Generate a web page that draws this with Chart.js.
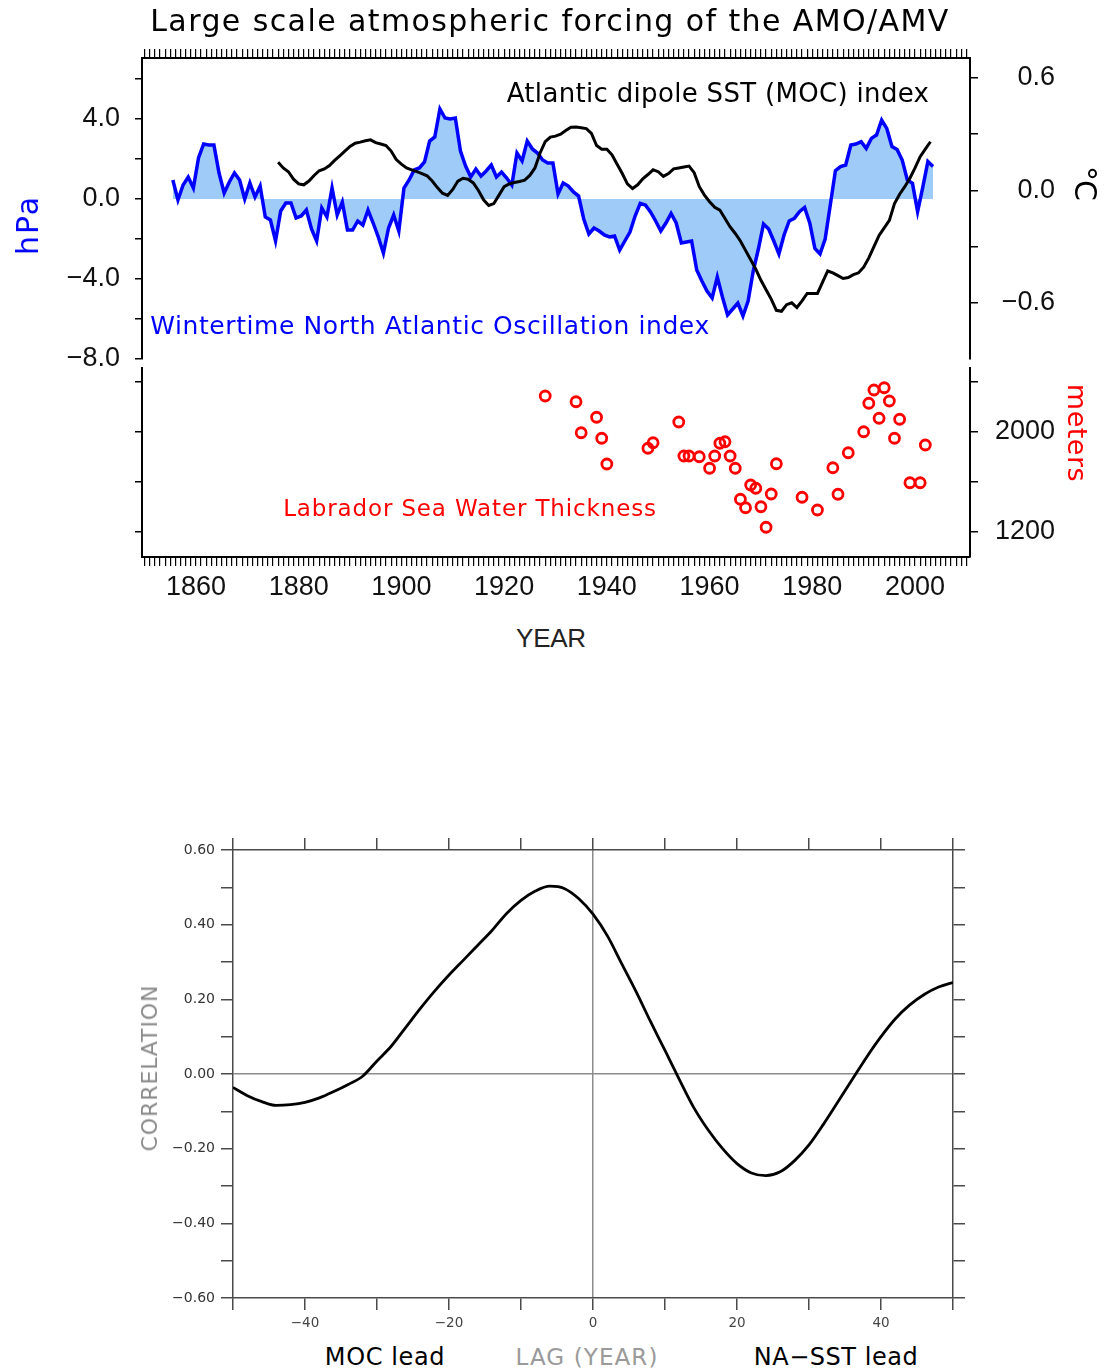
<!DOCTYPE html>
<html lang="en">
<head>
<meta charset="UTF-8">
<title>Large scale atmospheric forcing of the AMO/AMV</title>
<style>
  body { margin: 0; background: #fff; }
  #page { position: relative; width: 1104px; height: 1371px; overflow: hidden; background: #fff; }
  #page canvas { position: absolute; left: 0; }
  .txt { position: absolute; white-space: nowrap; font-family: "DejaVu Sans", sans-serif; line-height: 1; transform: translate(-50%, -50%); }
  .up { transform: translate(-50%, -50%) rotate(-90deg); }
  .down { transform: translate(-50%, -50%) rotate(90deg); }
</style>
</head>
<body>
<div id="page">
  <canvas id="topChart" width="1104" height="375" style="top:0"></canvas>
  <canvas id="lswChart" width="1104" height="255" style="top:360px"></canvas>
  <canvas id="lagChart" width="1104" height="520" style="top:820px"></canvas>

  <div class="txt" data-w="800" style="left:550px;top:21px;font-size:30px;color:#000">Large scale atmospheric forcing of the AMO/AMV</div>
  <div class="txt" data-w="423" style="left:718px;top:93px;font-size:26px;color:#000">Atlantic dipole SST (MOC) index</div>
  <div class="txt" data-w="560" style="left:430px;top:325px;font-size:25px;color:#0000ff">Wintertime North Atlantic Oscillation index</div>
  <div class="txt" data-w="374" style="left:470px;top:508px;font-size:23px;color:#ff0000">Labrador Sea Water Thickness</div>
  <div class="txt" data-w="70" style="left:551px;top:638px;font-size:26px;color:#222;font-family:'Liberation Sans',sans-serif">YEAR</div>
  <div class="txt up" data-w="60" style="left:28px;top:225px;font-size:30px;color:#0000ff">hPa</div>
  <div class="txt down" data-w="34" style="left:1085px;top:183px;font-size:30px;color:#000">°C</div>
  <div class="txt down" data-w="98" style="left:1077px;top:433px;font-size:27px;color:#ff0000">meters</div>

  <div class="txt up" data-w="167" style="left:150px;top:1068px;font-size:22px;color:#8a8a8a">CORRELATION</div>
  <div class="txt" data-w="120" style="left:385px;top:1357px;font-size:24px;color:#000">MOC lead</div>
  <div class="txt" data-w="143" style="left:587px;top:1357px;font-size:23px;color:#9a9a9a">LAG (YEAR)</div>
  <div class="txt" data-w="165" style="left:836px;top:1357px;font-size:24px;color:#000">NA−SST lead</div>
</div>

<script src="https://cdn.jsdelivr.net/npm/chart.js"></script>
<script>
// winter NAO index (hPa), one value per winter, first at 1855.5
const naoStart = 1855.5;
const naoValues = [
  0.95, -0.05, 0.7, 1.1, 0.55, 2.05, 2.75, 2.7, 2.7, 1.3,
  0.3, 0.85, 1.3, 0.95, 0.0, 0.8, 0.1, 0.65, -0.9, -1.05,
  -2.1, -0.6, -0.2, -0.2, -0.95, -0.85, -0.55, -1.5, -2.1, -0.45,
  -0.9, 0.55, -0.8, -0.15, -1.55, -1.55, -1.1, -1.3, -0.55, -1.2,
  -1.9, -2.7, -1.45, -0.8, -1.6, 0.55, 0.95, 1.45, 1.55, 1.85,
  2.9, 3.1, 4.5, 4.05, 4.0, 4.05, 2.4, 1.65, 1.1, 1.5,
  1.15, 1.4, 1.7, 1.1, 1.35, 1.05, 0.7, 2.3, 1.9, 2.9,
  2.5, 2.3, 1.95, 1.8, 1.8, 0.25, 0.8, 0.65, 0.35, 0.15,
  -1.0, -1.75, -1.45, -1.6, -1.8, -1.9, -1.85, -2.55, -2.1, -1.65,
  -0.85, -0.22, -0.3, -0.65, -1.1, -1.6, -1.2, -0.72, -1.2, -2.2,
  -2.15, -2.1, -3.55, -4.1, -4.6, -4.95, -3.9, -4.9, -5.8, -5.5,
  -5.2, -5.85, -5.1, -3.6, -2.5, -1.25, -1.5, -2.1, -2.75, -1.8,
  -1.1, -0.97, -0.63, -0.42, -1.2, -2.47, -2.75, -2.0, -0.3, 1.42,
  1.62, 1.7, 2.7, 2.75, 2.87, 2.53, 3.03, 3.2, 3.95, 3.53,
  2.62, 2.48, 1.95, 0.95, 0.78, -0.63, 0.58, 1.87, 1.62
];

// Atlantic dipole SST (MOC) index (degC), yearly from 1876
const mocStart = 1876;
const mocValues = [
  0.15, 0.12, 0.10, 0.06, 0.035, 0.03, 0.05, 0.08, 0.105, 0.115,
  0.133, 0.16, 0.185, 0.21, 0.235, 0.252, 0.258, 0.265, 0.27, 0.255,
  0.248, 0.24, 0.21, 0.165, 0.14, 0.12, 0.11, 0.10, 0.09, 0.078,
  0.05, 0.015, -0.015, -0.027, 0.005, 0.05, 0.065, 0.06, 0.04, 0.0,
  -0.05, -0.08, -0.07, -0.025, 0.02, 0.035, 0.042, 0.048, 0.055, 0.08,
  0.12, 0.2, 0.26, 0.285, 0.29, 0.30, 0.32, 0.337, 0.338, 0.335,
  0.33, 0.305, 0.24, 0.22, 0.22, 0.19, 0.14, 0.09, 0.035, 0.01,
  0.03, 0.062, 0.085, 0.11, 0.10, 0.075, 0.09, 0.115, 0.12, 0.125,
  0.13, 0.095, 0.02, -0.025, -0.06, -0.09, -0.105, -0.15, -0.195, -0.23,
  -0.27, -0.32, -0.37, -0.42, -0.48, -0.53, -0.58, -0.64, -0.645, -0.61,
  -0.60, -0.625, -0.59, -0.55, -0.55, -0.55, -0.49, -0.43, -0.44, -0.455,
  -0.47, -0.465, -0.45, -0.44, -0.41, -0.36, -0.30, -0.24, -0.20, -0.16,
  -0.07, -0.02, 0.02, 0.065, 0.12, 0.18, 0.22, 0.26
];

// Labrador Sea Water thickness (m)
const lswYears = [1928, 1934, 1935, 1938, 1939, 1940, 1948, 1949, 1954, 1955, 1956, 1958, 1960, 1961,
  1962, 1963, 1964, 1965, 1966, 1967, 1968, 1969, 1970, 1971, 1972, 1973, 1978, 1981, 1984, 1985,
  1987, 1990, 1991, 1992, 1993, 1994, 1995, 1996, 1997, 1999, 2001, 2002];
const lswValues = [2288, 2242, 1994, 2118, 1950, 1744, 1870, 1914, 2080, 1808, 1808, 1802, 1710, 1808,
  1910, 1922, 1808, 1710, 1462, 1394, 1576, 1550, 1402, 1238, 1504, 1746, 1478, 1376, 1714, 1502,
  1834, 2002, 2230, 2336, 2110, 2354, 2248, 1950, 2102, 1594, 1594, 1896];

// lag correlation, MOC vs NA-SST
const lags = [-50, -48, -46, -44, -42, -40, -38, -36, -34, -32, -30, -28, -26, -24, -22, -20, -18, -16, -14, -12,
  -10, -8, -6, -4, -2, 0, 2, 4, 6, 8, 10, 12, 14, 16, 18, 20, 22, 24, 26, 28,
  30, 32, 34, 36, 38, 40, 42, 44, 46, 48, 50];
const lagCorr = [-0.036, -0.058, -0.074, -0.084, -0.082, -0.076, -0.064, -0.047, -0.028, -0.006,
  0.035, 0.075, 0.125, 0.175, 0.222, 0.265, 0.305, 0.345, 0.385, 0.43,
  0.465, 0.49, 0.503, 0.497, 0.47, 0.428, 0.37, 0.295, 0.22, 0.14,
  0.063, -0.015, -0.09, -0.15, -0.2, -0.24, -0.265, -0.272, -0.262, -0.232,
  -0.19, -0.135, -0.075, -0.015, 0.045, 0.1, 0.148, 0.185, 0.213, 0.233, 0.245];

const naoYearLabels = [1860, 1880, 1900, 1920, 1940, 1960, 1980, 2000];
const lagLabels = [-40, -20, 0, 20, 40];

// ---- helpers ----
const fmt = (v, d) => (v < -1e-9 ? '\u2212' : '') + Math.abs(v).toFixed(d);
function fixBox(size) {
  return function (scale) {
    if (scale.isHorizontal()) scale.height = size; else scale.width = size;
    scale.paddingTop = scale.paddingBottom = scale.paddingLeft = scale.paddingRight = 0;
  };
}
function setTicks(values) {
  return function (scale) { scale.ticks = values.map(v => ({ value: v })); };
}
function range(a, b, step) {
  const out = [];
  for (let i = 0; a + i * step <= b + 1e-9; i++) out.push(Math.round((a + i * step) * 1000) / 1000);
  return out;
}

const naoPoints = naoValues.map((v, i) => ({ x: naoStart + i, y: v }));
const mocPoints = mocValues.map((v, i) => ({ x: mocStart + i, y: v }));
const lswPoints = lswYears.map((yr, i) => ({ x: yr, y: lswValues[i] }));
const lagPoints = lags.map((l, i) => ({ x: l, y: lagCorr[i] }));

const yearMin = 1849.5, yearMax = 2010.7;
const bigFont = { family: 'Liberation Sans', size: 27 };
const black = '#000';
const noPlugins = { legend: { display: false }, tooltip: { enabled: false } };

// ---- top panel: NAO + MOC ----
new Chart(document.getElementById('topChart'), {
  type: 'line',
  data: {
    datasets: [
      { data: mocPoints, yAxisID: 'ySst', borderColor: black, borderWidth: 3, pointRadius: 0, fill: false, tension: 0 },
      { data: naoPoints, yAxisID: 'yNao', borderColor: '#0000ff', borderWidth: 3.5, pointRadius: 0,
        fill: 'origin', backgroundColor: '#9ecbf7', tension: 0 }
    ]
  },
  options: {
    responsive: false, animation: false, plugins: noPlugins,
    layout: { padding: { top: 0, right: 49, bottom: 16, left: 0 } },
    scales: {
      x: {
        type: 'linear', position: 'top', min: yearMin, max: yearMax,
        afterBuildTicks: setTicks(range(1850, 2010, 1)), afterFit: fixBox(58),
        grid: { drawOnChartArea: false, tickLength: 9, color: black, lineWidth: 1.2 },
        border: { color: black, width: 2 },
        ticks: { display: false, autoSkip: false }
      },
      yNao: {
        type: 'linear', position: 'left', min: -8, max: 7.05,
        afterBuildTicks: setTicks(range(-8, 6, 2)), afterFit: fixBox(142),
        grid: { drawOnChartArea: false, tickLength: 7, color: black, lineWidth: 1.5 },
        border: { color: black, width: 2 },
        ticks: { autoSkip: false, padding: 15, color: '#111', font: bigFont,
          callback: v => (Math.round(v) % 4 === 0 ? fmt(v, 1) : '') }
      },
      ySst: {
        type: 'linear', position: 'right', min: -0.9, max: 0.707,
        afterBuildTicks: setTicks([-0.6, -0.3, 0, 0.3, 0.6]), afterFit: fixBox(85),
        grid: { drawOnChartArea: false, tickLength: 8, color: black, lineWidth: 1.5 },
        border: { color: black, width: 2 },
        ticks: { autoSkip: false, crossAlign: 'far', color: '#111', font: bigFont,
          callback: v => (Math.round(v * 10) % 6 === 0 ? fmt(v, 1) : '') }
      }
    }
  }
});

// ---- lower panel: Labrador Sea Water thickness ----
new Chart(document.getElementById('lswChart'), {
  type: 'scatter',
  data: {
    datasets: [{ data: lswPoints, yAxisID: 'yL', borderColor: '#ff0000', backgroundColor: 'rgba(0,0,0,0)',
      pointRadius: 5, pointBorderWidth: 2.8, pointStyle: 'circle' }]
  },
  options: {
    responsive: false, animation: false, plugins: noPlugins,
    layout: { padding: { top: 8, right: 49, bottom: 0, left: 0 } },
    scales: {
      x: {
        type: 'linear', position: 'bottom', min: yearMin, max: yearMax,
        afterBuildTicks: setTicks(range(1850, 2010, 1)), afterFit: fixBox(58),
        grid: { drawOnChartArea: false, tickLength: 9, color: black, lineWidth: 1.2 },
        border: { color: black, width: 2 },
        ticks: { autoSkip: false, maxRotation: 0, padding: 5, color: '#111', font: bigFont,
          callback: v => (naoYearLabels.includes(v) ? String(v) : '') }
      },
      yL: {
        type: 'linear', position: 'left', min: 1000, max: 2512,
        afterBuildTicks: setTicks([1200, 1600, 2000, 2400]), afterFit: fixBox(142),
        grid: { drawOnChartArea: false, tickLength: 7, color: black, lineWidth: 1.5 },
        border: { color: black, width: 2 },
        ticks: { autoSkip: false, callback: () => '' }
      },
      yR: {
        type: 'linear', position: 'right', min: 1000, max: 2512,
        afterBuildTicks: setTicks([1200, 1600, 2000, 2400]), afterFit: fixBox(85),
        grid: { drawOnChartArea: false, tickLength: 8, color: black, lineWidth: 1.5 },
        border: { color: black, width: 2 },
        ticks: { autoSkip: false, crossAlign: 'far', color: '#111', font: bigFont,
          callback: v => (v === 2000 || v === 1200 ? String(v) : '') }
      }
    }
  }
});

// ---- bottom figure: lag correlation ----
const frame = '#4a4a4a';
const zeroLine = ctx => (ctx.tick && Math.abs(ctx.tick.value) < 1e-9 ? '#8c8c8c' : 'rgba(0,0,0,0)');
const smallFont = { family: 'DejaVu Sans', size: 13.5 };
new Chart(document.getElementById('lagChart'), {
  type: 'line',
  data: {
    datasets: [{ data: lagPoints, borderColor: black, borderWidth: 2.8, pointRadius: 0,
      cubicInterpolationMode: 'monotone', fill: false }]
  },
  options: {
    responsive: false, animation: false, plugins: noPlugins,
    layout: { padding: { top: 18, right: 139, bottom: 0, left: 0 } },
    scales: {
      x: {
        type: 'linear', position: 'bottom', min: -50, max: 50,
        afterBuildTicks: setTicks(range(-50, 50, 10)), afterFit: fixBox(42),
        grid: { color: zeroLine, tickColor: frame, tickLength: 12, lineWidth: 1.5 },
        border: { color: frame, width: 1.5 },
        ticks: { autoSkip: false, maxRotation: 0, padding: 5, color: '#444', font: smallFont,
          callback: v => (lagLabels.includes(v) ? fmt(v, 0) : '') }
      },
      xTop: {
        type: 'linear', position: 'top', min: -50, max: 50,
        afterBuildTicks: setTicks(range(-50, 50, 10)), afterFit: fixBox(12),
        grid: { drawOnChartArea: false, color: frame, tickLength: 12, lineWidth: 1.5 },
        border: { color: frame, width: 1.5 },
        ticks: { display: false, autoSkip: false }
      },
      y: {
        type: 'linear', position: 'left', min: -0.6, max: 0.6,
        afterBuildTicks: setTicks(range(-0.6, 0.6, 0.1)), afterFit: fixBox(233),
        grid: { color: zeroLine, tickColor: frame, tickLength: 12, lineWidth: 1.5 },
        border: { color: frame, width: 1.5 },
        ticks: { autoSkip: false, padding: 6, color: '#333', font: { family: 'DejaVu Sans', size: 14 },
          callback: v => (Math.round(v * 10) % 2 === 0 ? fmt(v, 2) : '') }
      },
      yRight: {
        type: 'linear', position: 'right', min: -0.6, max: 0.6,
        afterBuildTicks: setTicks(range(-0.6, 0.6, 0.1)), afterFit: fixBox(12),
        grid: { drawOnChartArea: false, color: frame, tickLength: 12, lineWidth: 1.5 },
        border: { color: frame, width: 1.5 },
        ticks: { display: false, autoSkip: false }
      }
    }
  }
});

// stretch annotation text to the widths seen in the figure
document.querySelectorAll('.txt[data-w]').forEach(el => {
  const n = el.textContent.length;
  const extra = (Number(el.dataset.w) - el.offsetWidth) / n;
  el.style.letterSpacing = extra.toFixed(2) + 'px';
});
</script>
</body>
</html>
